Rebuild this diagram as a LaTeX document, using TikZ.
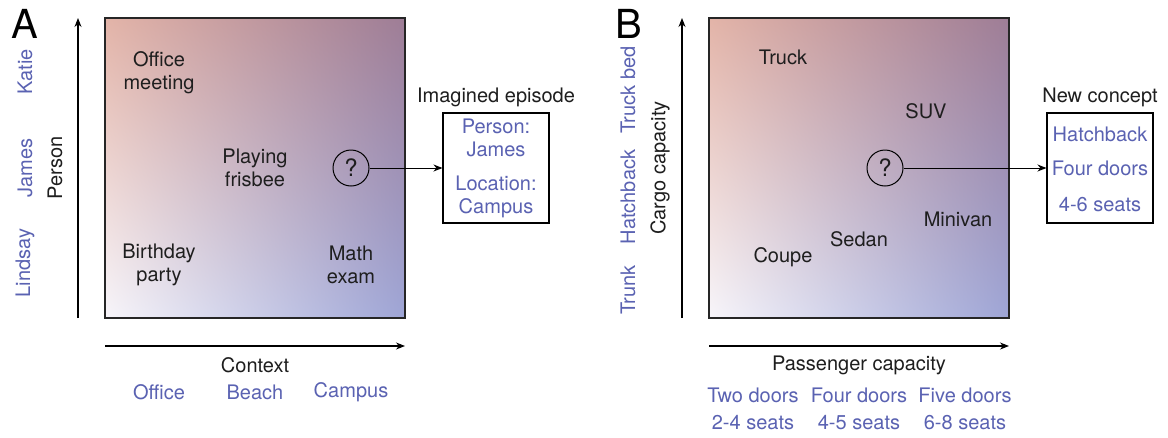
\documentclass[tikz,border=0pt]{standalone}
\usepackage{fontspec}
\setmainfont{TeX Gyre Heros}
\usetikzlibrary{arrows.meta,shadings}
\definecolor{cTL}{HTML}{E3B4A8}
\definecolor{cTR}{HTML}{9E7D96}
\definecolor{cBL}{HTML}{F7F5FA}
\definecolor{cBR}{HTML}{9EA5D6}
\definecolor{lblue}{HTML}{5A62B2}
\definecolor{dtxt}{HTML}{1E1E1E}
\begin{document}
\begin{tikzpicture}[x=1pt,y=-1pt,
  txt/.style={font=\fontsize{20}{23}\selectfont, text=dtxt, align=center, inner sep=0pt},
  btxt/.style={font=\fontsize{20}{23}\selectfont, text=lblue, align=center, inner sep=0pt},
  rtxt/.style={btxt, rotate=90},
  panel/.style={font=\fontsize{40}{40}\selectfont, text=black, inner sep=0pt},
  axis/.style={draw=black, line width=1.1pt, -{Stealth[length=9pt,width=7pt]}},
  frame/.style={draw=black!85, line width=1.1pt},
  grad/.style={shading=bilinear interpolation, upper left=cTL, upper right=cTR, lower left=cBL, lower right=cBR},
  qcirc/.style={circle, draw=black, line width=1pt, minimum size=36pt, inner sep=0pt, font=\fontsize{24}{24}\selectfont, text=dtxt},
  ibox/.style={draw=black, line width=1.1pt, fill=white}
]
\useasboundingbox (0,0) rectangle (1168,437);
\fill[white] (0,0) rectangle (1168,437);

% ---------------- Panel A ----------------
\node[panel] (lA) at (25,24) {A};
\shade[grad] (105,18) rectangle (405,318);
\draw[frame] (105,18) rectangle (405,318);
\coordinate (ayA0) at (78,318);
\coordinate (ayA1) at (78,18);
\draw[axis] (ayA0) -- (ayA1);
\coordinate (axA0) at (105,346);
\coordinate (axA1) at (405,346);
\draw[axis] (axA0) -- (axA1);
\node[txt] (ctx) at (255,365) {Context};
\node[btxt] (office) at (159,392) {Office};
\node[btxt] (beach) at (255,392) {Beach};
\node[btxt] (campus) at (351,392) {Campus};
\node[txt, rotate=90] (person) at (55,168) {Person};
\node[rtxt] (katie) at (25,72) {Katie};
\node[rtxt] (james) at (25,168) {James};
\node[rtxt] (lindsay) at (25,263) {Lindsay};
\node[txt] (om) at (159,73) {Office\\meeting};
\node[txt] (pf) at (255,168) {Playing\\frisbee};
\node[txt] (bp) at (159,265) {Birthday\\party};
\node[txt] (me) at (351,265) {Math\\exam};
\node[qcirc] (qA) at (351,168) {?};
\node[ibox, minimum width=106pt, minimum height=110pt] (boxA) at (496,168) {};
\node[txt] (titleA) at (496,97) {Imagined episode};
\node[btxt] (pj) at (496,138) {Person:\\James};
\node[btxt] (lc) at (496,197) {Location:\\Campus};
\draw[axis, line width=1pt] (qA) -- (boxA);

% ---------------- Panel B ----------------
\node[panel] (lB) at (629,24) {B};
\shade[grad] (709,18) rectangle (1009,318);
\draw[frame] (709,18) rectangle (1009,318);
\coordinate (ayB0) at (682,318);
\coordinate (ayB1) at (682,18);
\draw[axis] (ayB0) -- (ayB1);
\coordinate (axB0) at (709,346);
\coordinate (axB1) at (1009,346);
\draw[axis] (axB0) -- (axB1);
\node[txt] (pc) at (859,365) {Passenger capacity};
\node[btxt] (d2) at (753,395) {Two doors};
\node[btxt] (d4) at (859,395) {Four doors};
\node[btxt] (d5) at (965,395) {Five doors};
\node[btxt] (s2) at (753,423) {2-4 seats};
\node[btxt] (s4) at (859,423) {4-5 seats};
\node[btxt] (s6) at (965,423) {6-8 seats};
\node[txt, rotate=90] (cc) at (660,168) {Cargo capacity};
\node[rtxt] (trunk) at (628,290) {Trunk};
\node[rtxt] (hatch) at (628,197) {Hatchback};
\node[rtxt] (tbed) at (628,90) {Truck bed};
\node[txt] (truck) at (783,57) {Truck};
\node[txt] (suv) at (926,111) {SUV};
\node[txt] (minivan) at (958,219) {Minivan};
\node[txt] (sedan) at (859,239) {Sedan};
\node[txt] (coupe) at (783,257) {Coupe};
\node[qcirc] (qB) at (885,168) {?};
\node[ibox, minimum width=106pt, minimum height=110pt] (boxB) at (1100,168) {};
\node[txt] (titleB) at (1100,97) {New concept};
\node[btxt] (hb) at (1100,134) {Hatchback};
\node[btxt] (fd) at (1100,168) {Four doors};
\node[btxt] (sx) at (1100,205) {4-6 seats};
\draw[axis, line width=1pt] (qB) -- (boxB);
\end{tikzpicture}
\end{document}
